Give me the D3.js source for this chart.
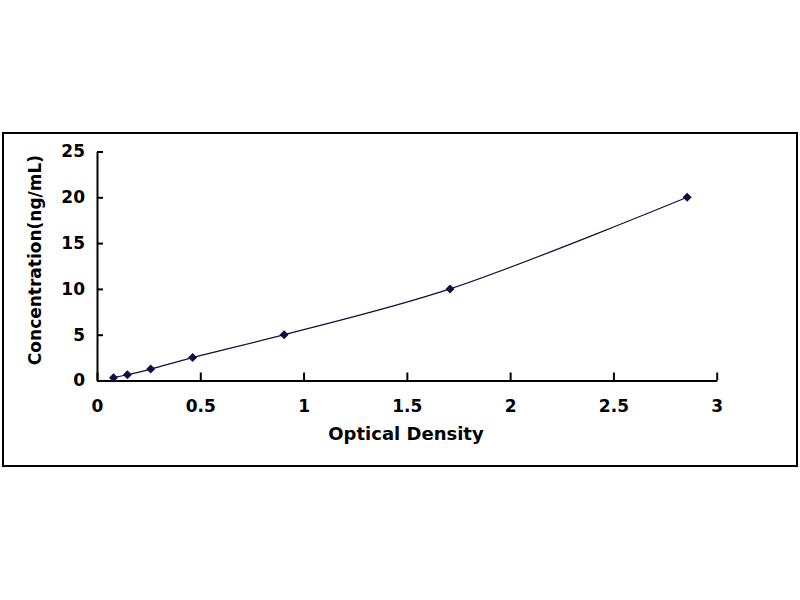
<!DOCTYPE html>
<html>
<head>
<meta charset="utf-8">
<script src="https://cdn.jsdelivr.net/npm/d3@7"></script>
<style>
  html, body { margin: 0; padding: 0; background: #ffffff; }
  svg { display: block; }
  text { font-family: "DejaVu Sans", "Liberation Sans", Arial, sans-serif; font-weight: bold; fill: #000; }
</style>
</head>
<body>
<svg id="chart" width="800" height="600"></svg>
<script>
// Data
const opticalDensity = [0.08, 0.147, 0.26, 0.463, 0.906, 1.709, 2.857];
const concentration = [0.312, 0.625, 1.25, 2.5, 5, 10, 20];
const xTicks = [0, 0.5, 1, 1.5, 2, 2.5, 3];
const yTicks = [0, 5, 10, 15, 20, 25];
const xTitle = "Optical Density";
const yTitle = "Concentration(ng/mL)";

const points = opticalDensity.map((x, i) => ({ x, y: concentration[i] }));

const svg = d3.select("#chart");
const FONT = "DejaVu Sans, Liberation Sans, Arial, sans-serif";

// Outer frame
svg.append("rect")
  .attr("x", 3).attr("y", 133)
  .attr("width", 794).attr("height", 333)
  .attr("fill", "#fff").attr("stroke", "#000").attr("stroke-width", 2);

const x = d3.scaleLinear().domain([0, 3]).range([97, 716.7]);
const y = d3.scaleLinear().domain([0, 25]).range([380.5, 151.5]);

// X axis (ticks pointing up into the plot)
const xAxis = svg.append("g")
  .attr("transform", `translate(0,${y(0)})`)
  .call(d3.axisBottom(x).tickValues(xTicks).tickSizeInner(-8).tickSizeOuter(0).tickPadding(19)
    .tickFormat(d3.format("")));
xAxis.select(".domain").attr("stroke", "#000").attr("stroke-width", 2);
xAxis.selectAll(".tick line").attr("stroke", "#000").attr("stroke-width", 2);
xAxis.selectAll(".tick text").attr("font-size", 17).attr("font-family", FONT).attr("font-weight", "bold");

// Y axis (ticks pointing right into the plot)
const yAxis = svg.append("g")
  .attr("transform", `translate(${x(0)},0)`)
  .call(d3.axisLeft(y).tickValues(yTicks).tickSizeInner(-6).tickSizeOuter(0).tickPadding(12));
yAxis.select(".domain").attr("stroke", "#000").attr("stroke-width", 2);
yAxis.selectAll(".tick line").attr("stroke", "#000").attr("stroke-width", 2);
yAxis.selectAll(".tick text").attr("font-size", 17).attr("font-family", FONT).attr("font-weight", "bold");

// Axis titles
svg.append("text")
  .attr("x", 406).attr("y", 440)
  .attr("text-anchor", "middle")
  .attr("font-size", 18)
  .text(xTitle);

svg.append("text")
  .attr("transform", "translate(41,260) rotate(-90)")
  .attr("text-anchor", "middle")
  .attr("font-size", 17)
  .text(yTitle);

// Smoothed curve
const line = d3.line()
  .x(d => x(d.x)).y(d => y(d.y))
  .curve(d3.curveCatmullRom.alpha(0.5));

svg.append("path")
  .datum(points)
  .attr("d", line)
  .attr("fill", "none")
  .attr("stroke", "#10103a")
  .attr("stroke-width", 1.2);

// Diamond markers
svg.append("g").selectAll("path")
  .data(points)
  .join("path")
  .attr("transform", d => `translate(${x(d.x)},${y(d.y)})`)
  .attr("d", "M0,-4.5L4.5,0L0,4.5L-4.5,0Z")
  .attr("fill", "#0e0e45");
</script>
</body>
</html>
